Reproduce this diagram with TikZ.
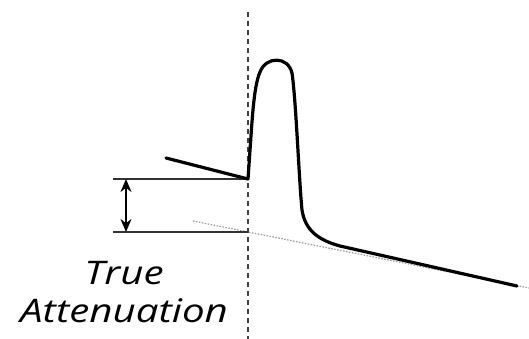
\documentclass[tikz,border=0pt]{standalone}
\usepackage{fontspec}
\newfontfamily\lblfont[FakeStretch=1.24]{Open Sans}
\usetikzlibrary{arrows.meta}
\begin{document}
\begin{tikzpicture}[x=1pt,y=-1pt,
  trace/.style={line width=3.2pt,line cap=round,line join=round},
  refline/.style={line width=1.5pt,black!80},
  marker/.style={line width=1.6pt,black!75,dash pattern=on 5pt off 4pt},
  extrap/.style={line width=1.2pt,black!40,dash pattern=on 1.5pt off 1.5pt},
  dimarrow/.style={line width=1.8pt,{Stealth[length=13pt,width=11pt]}-{Stealth[length=13pt,width=11pt]}},
  lbl/.style={font=\lblfont\itshape\fontsize{32.5}{38}\selectfont,inner sep=0pt,anchor=base}]
\useasboundingbox (0,0) rectangle (529,339);
\coordinate (dtop) at (248,12);
\coordinate (dbot) at (248,339);
\coordinate (start) at (166,158);
\coordinate (launch) at (248,179);
\coordinate (floor) at (248,232);
\coordinate (extL) at (193,221);
\coordinate (extR) at (529,288);
\coordinate (hlA) at (113,179);
\coordinate (hlB) at (113,232);
\coordinate (arrA) at (126,179);
\coordinate (arrB) at (126,232);
\draw[marker] (dtop) -- (dbot);
\draw[extrap] (extL) -- (extR);
\draw[refline] (hlA) -- (launch);
\draw[refline] (hlB) -- (floor);
\draw[dimarrow] (arrA) -- (arrB);
\draw[trace] (start) -- (launch) .. controls (252,125) and (253,88) .. (260,72)
  .. controls (266,56) and (288,56) .. (292,73)
  .. controls (296,100) and (299,180) .. (302,210)
  .. controls (305,230) and (318,240) .. (340,246) -- (517,286);
\node[lbl] (t1) at (124,284) {True};
\node[lbl] (t2) at (124,322) {Attenuation};
\end{tikzpicture}
\end{document}
